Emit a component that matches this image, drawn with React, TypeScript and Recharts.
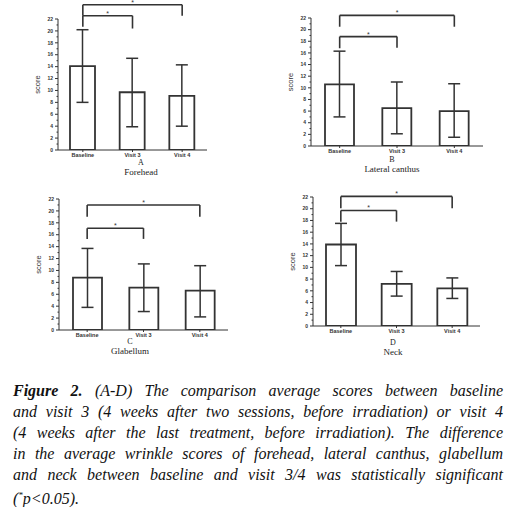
import React from "react";
import {
  BarChart,
  Bar,
  XAxis,
  YAxis,
  ErrorBar,
  ReferenceLine,
} from "recharts";

const CATEGORIES = ["Baseline", "Visit 3", "Visit 4"];
const Y_TICKS = [0, 1, 2, 3, 4, 5, 6, 7, 8, 9, 10, 11, 12, 13, 14, 15, 16, 17, 18, 19, 20, 21, 22];

// mean score and the top / bottom of each error bar
const FOREHEAD_MEAN = [14.1, 9.7, 9.1];
const FOREHEAD_HIGH = [20.2, 15.4, 14.3];
const FOREHEAD_LOW = [8.0, 3.9, 4.0];

const CANTHUS_MEAN = [10.6, 6.5, 6.0];
const CANTHUS_HIGH = [16.3, 11.0, 10.7];
const CANTHUS_LOW = [5.0, 2.1, 1.5];

const GLABELLUM_MEAN = [8.8, 7.1, 6.6];
const GLABELLUM_HIGH = [13.7, 11.1, 10.8];
const GLABELLUM_LOW = [3.8, 3.1, 2.2];

const NECK_MEAN = [13.9, 7.2, 6.4];
const NECK_HIGH = [17.5, 9.3, 8.2];
const NECK_LOW = [10.3, 5.1, 4.7];

// significance brackets: target category, bar height, left foot, right foot
type Bracket = { to: string; y: number; left: number; right: number };
const FOREHEAD_BRACKETS: Bracket[] = [
  { to: "Visit 4", y: 24.4, left: 22.55, right: 22.55 },
  { to: "Visit 3", y: 22.55, left: 20.7, right: 20.4 },
];
const CANTHUS_BRACKETS: Bracket[] = [
  { to: "Visit 4", y: 22.45, left: 20.5, right: 20.5 },
  { to: "Visit 3", y: 18.8, left: 16.8, right: 16.9 },
];
const GLABELLUM_BRACKETS: Bracket[] = [
  { to: "Visit 4", y: 21.0, left: 19.0, right: 19.0 },
  { to: "Visit 3", y: 17.1, left: 15.3, right: 15.3 },
];
const NECK_BRACKETS: Bracket[] = [
  { to: "Visit 4", y: 22.1, left: 20.1, right: 20.1 },
  { to: "Visit 3", y: 19.7, left: 17.8, right: 17.8 },
];

const CAPTION_LINES = [
  "and visit 3 (4 weeks after two sessions, before irradiation) or visit 4",
  "(4 weeks after the last treatment, before irradiation). The difference",
  "in the average wrinkle scores of forehead, lateral canthus, glabellum",
  "and neck between baseline and visit 3/4 was statistically significant",
];

const INK = "#333";
const SANS = "'Liberation Sans', Arial, sans-serif";
const SERIF = "'Liberation Serif', 'Times New Roman', serif";

function buildRows(mean: number[], high: number[], low: number[]) {
  return CATEGORIES.map((name, i) => ({
    name,
    mean: mean[i],
    err: [mean[i] - low[i], high[i] - mean[i]],
  }));
}

function YTick(props: any) {
  const { x, y, payload } = props;
  const v = payload.value as number;
  const axisX = x + 5;
  const major = v % 2 === 0;
  return (
    <g>
      <line x1={axisX} x2={axisX - (major ? 3 : 1.5)} y1={y} y2={y} stroke={INK} strokeWidth={1} />
      {major && (
        <text x={x} y={y} dy="0.35em" textAnchor="end" fontSize={5} fontWeight="bold" fill={INK} fontFamily={SANS}>
          {v}
        </text>
      )}
    </g>
  );
}

type PanelProps = {
  left: number;
  top: number;
  margin: { top: number; right: number; bottom: number; left: number };
  barSize: number;
  mean: number[];
  high: number[];
  low: number[];
  brackets: Bracket[];
  letter: string;
  title: string;
  captionX: number;
  letterY: number;
  titleY: number;
};

function CaptionText({ x, y, text, size }: { x: number; y: number; text: string; size: number }) {
  return (
    <div
      style={{
        position: "absolute",
        left: x - 60,
        width: 120,
        top: y - 4,
        textAlign: "center",
        fontFamily: SERIF,
        fontSize: size,
        lineHeight: "8px",
        color: "#222",
      }}
    >
      {text}
    </div>
  );
}

function Panel(p: PanelProps) {
  const rows = buildRows(p.mean, p.high, p.low);
  const line = { stroke: INK, strokeWidth: 1.6, ifOverflow: "visible" as const };
  return (
    <div style={{ position: "absolute", left: p.left, top: p.top, width: 255, height: 180 }}>
      <BarChart width={255} height={180} data={rows} margin={p.margin}>
        <XAxis
          dataKey="name"
          height={20}
          axisLine={{ stroke: INK }}
          tickLine={{ stroke: INK }}
          tickSize={2}
          tickMargin={1}
          interval={0}
          tick={{ fontSize: 5.5, fontWeight: "bold", fill: INK, fontFamily: SANS }}
        />
        <YAxis
          width={30}
          domain={[0, 22]}
          ticks={Y_TICKS}
          interval={0}
          allowDataOverflow
          axisLine={{ stroke: INK }}
          tickLine={false}
          tickSize={3}
          tickMargin={2}
          tick={<YTick />}
          label={{
            value: "score",
            angle: -90,
            position: "insideLeft",
            offset: 9,
            style: { fontSize: 7.5, fill: INK, fontFamily: SANS, textAnchor: "middle" },
          }}
        />
        <Bar dataKey="mean" barSize={p.barSize} fill="#fff" stroke={INK} strokeWidth={1.8} isAnimationActive={false}>
          <ErrorBar dataKey="err" width={6} stroke={INK} strokeWidth={1.5} direction="y" isAnimationActive={false} />
        </Bar>
        {p.brackets.map((b, i) => (
          <React.Fragment key={i}>
            <ReferenceLine
              {...line}
              segment={[
                { x: "Baseline", y: b.y },
                { x: b.to, y: b.y },
              ]}
              label={{ value: "*", position: "top", offset: 0, fontSize: 7, fill: INK, fontFamily: SANS }}
            />
            <ReferenceLine
              {...line}
              segment={[
                { x: "Baseline", y: b.y },
                { x: "Baseline", y: b.left },
              ]}
            />
            <ReferenceLine
              {...line}
              segment={[
                { x: b.to, y: b.y },
                { x: b.to, y: b.right },
              ]}
            />
          </React.Fragment>
        ))}
      </BarChart>
      <CaptionText x={p.captionX - p.left} y={p.letterY - p.top} text={p.letter} size={8} />
      <CaptionText x={p.captionX - p.left} y={p.titleY - p.top} text={p.title} size={9} />
    </div>
  );
}

export default function App() {
  const lineStyle: React.CSSProperties = {
    textAlign: "justify",
    textAlignLast: "justify",
    whiteSpace: "nowrap",
  };
  return (
    <div
      style={{
        position: "absolute",
        left: 0,
        top: 0,
        width: 511,
        height: 507,
        background: "#fff",
        overflow: "hidden",
      }}
    >
      <Panel
        left={0}
        top={0}
        margin={{ top: 19, right: 48, bottom: 10, left: 28 }}
        barSize={25}
        mean={FOREHEAD_MEAN}
        high={FOREHEAD_HIGH}
        low={FOREHEAD_LOW}
        brackets={FOREHEAD_BRACKETS}
        letter="A"
        title="Forehead"
        captionX={141}
        letterY={163}
        titleY={172}
      />
      <Panel
        left={255}
        top={0}
        margin={{ top: 18, right: 27, bottom: 14, left: 26 }}
        barSize={29}
        mean={CANTHUS_MEAN}
        high={CANTHUS_HIGH}
        low={CANTHUS_LOW}
        brackets={CANTHUS_BRACKETS}
        letter="B"
        title="Lateral canthus"
        captionX={392}
        letterY={160}
        titleY={169}
      />
      <Panel
        left={0}
        top={180}
        margin={{ top: 19, right: 27, bottom: 10, left: 29 }}
        barSize={29}
        mean={GLABELLUM_MEAN}
        high={GLABELLUM_HIGH}
        low={GLABELLUM_LOW}
        brackets={GLABELLUM_BRACKETS}
        letter="C"
        title="Glabellum"
        captionX={130}
        letterY={342}
        titleY={351}
      />
      <Panel
        left={255}
        top={180}
        margin={{ top: 17, right: 30, bottom: 14, left: 28 }}
        barSize={30}
        mean={NECK_MEAN}
        high={NECK_HIGH}
        low={NECK_LOW}
        brackets={NECK_BRACKETS}
        letter="D"
        title="Neck"
        captionX={393}
        letterY={343}
        titleY={352}
      />
      <div
        style={{
          position: "absolute",
          left: 13,
          top: 380,
          width: 490,
          fontFamily: SERIF,
          fontStyle: "italic",
          fontSize: 16,
          lineHeight: "21px",
          color: "#111",
        }}
      >
        <div style={lineStyle}>
          <b>Figure 2.</b> (A-D) The comparison average scores between baseline
        </div>
        {CAPTION_LINES.map((t) => (
          <div key={t} style={lineStyle}>
            {t}
          </div>
        ))}
        <div>
          (<sup style={{ fontSize: 9 }}>*</sup>p&lt;0.05).
        </div>
      </div>
    </div>
  );
}
